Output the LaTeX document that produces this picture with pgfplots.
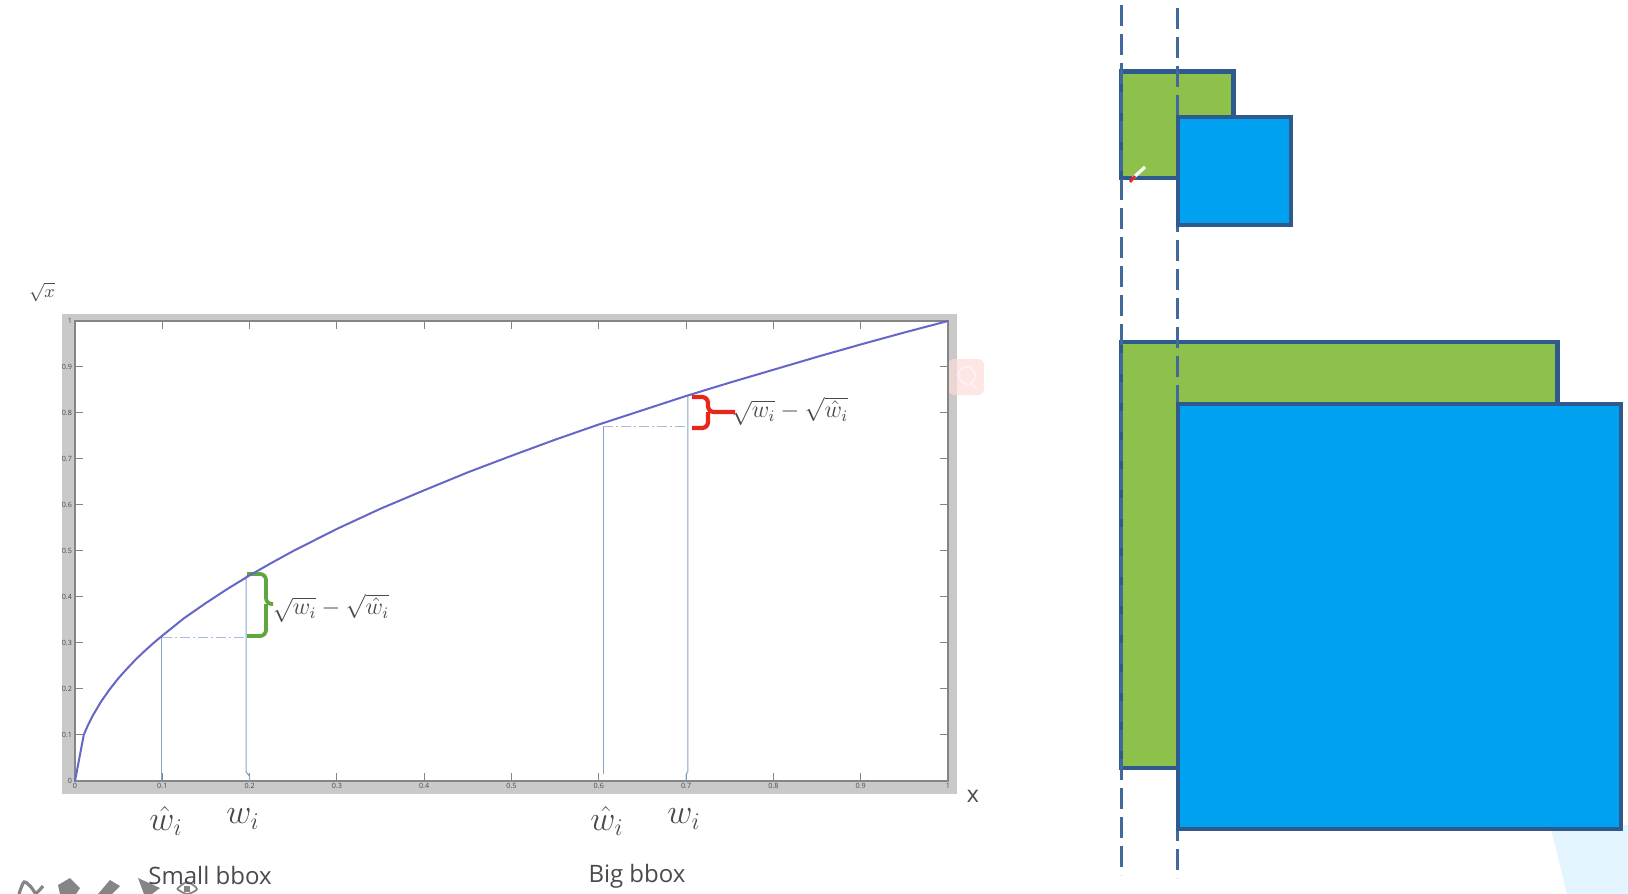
\documentclass[border=0pt]{standalone}
\usepackage{fontspec}
\setmainfont{Open Sans}
\usepackage{pgfplots}
\pgfplotsset{compat=1.18}
\definecolor{frameGray}{HTML}{C9C9C9}
\definecolor{axisGray}{HTML}{858585}
\definecolor{curveBlue}{HTML}{6466C8}
\definecolor{stemBlue}{HTML}{88A3C8}
\definecolor{dotBlue}{HTML}{A5BDD8}
\definecolor{boxEdge}{HTML}{2F5A8E}
\definecolor{dashEdge}{HTML}{41699A}
\definecolor{boxGreen}{HTML}{8DC14B}
\definecolor{boxBlue}{HTML}{00A1F1}
\definecolor{paleBlue}{HTML}{E3F4FE}
\definecolor{paleRed}{HTML}{FCDCD9}
\definecolor{braceGreen}{HTML}{5FA63E}
\definecolor{braceRed}{HTML}{E8271A}
\definecolor{inkGray}{HTML}{4A4A4A}
\definecolor{toolGray}{HTML}{858585}

\begin{document}
\begin{tikzpicture}
\path[use as bounding box] (0,0) rectangle (814pt,447pt);

% page layer, coordinates are pixels of the 1628x894 frame
\begin{axis}[
    at={(0,0)}, anchor=south west,
    scale only axis, width=814pt, height=447pt,
    xmin=0, xmax=1628, ymin=0, ymax=894, y dir=reverse,
    hide axis, clip=false,
]
% matlab figure window
\addplot[draw=none, fill=frameGray] coordinates {(62,314) (957,314) (957,794) (62,794)} --cycle;
\addplot[draw=none, fill=white] coordinates {(75,321) (948,321) (948,781) (75,781)} --cycle;

% search badge
\addplot[draw=none, fill=paleRed, fill opacity=0.7, rounded corners=3pt] coordinates {(948,359) (984,359) (984,395) (948,395)} --cycle;
\addplot[draw=white, draw opacity=0.6, line width=0.7pt, smooth] coordinates {(958,376) (961,369) (968,367) (974,371) (975,378) (970,384) (963,383) (958,376)};
\addplot[draw=white, draw opacity=0.6, line width=0.7pt] coordinates {(971,383) (977,389)};

% bottom right blob
\addplot[draw=none, fill=paleBlue] coordinates {(1550,825) (1628,825) (1628,894) (1567,894)} --cycle;

% green boxes, dashes, blue boxes
\addplot[draw=boxEdge, fill=boxGreen, line width=2.2pt] coordinates {(1121,71.5) (1233.5,71.5) (1233.5,178) (1121,178)} --cycle;
\addplot[draw=boxEdge, fill=boxGreen, line width=2.2pt] coordinates {(1121,342) (1557.5,342) (1557.5,768) (1121,768)} --cycle;
\addplot[draw=dashEdge, line width=1.3pt, dash pattern=on 10.5pt off 4pt] coordinates {(1121.5,5) (1121.5,875)};
\addplot[draw=dashEdge, line width=1.3pt, dash pattern=on 10.5pt off 4pt] coordinates {(1177.5,8) (1177.5,878)};
\addplot[draw=boxEdge, fill=boxBlue, line width=2.2pt] coordinates {(1178,117) (1291,117) (1291,225) (1178,225)} --cycle;
\addplot[draw=boxEdge, fill=boxBlue, line width=2.2pt] coordinates {(1178,404) (1621,404) (1621,829) (1178,829)} --cycle;

% pen cursor
\addplot[draw=white, line width=1.6pt] coordinates {(1133,178) (1145,167)};
\addplot[draw=braceRed, line width=1.4pt] coordinates {(1130,182) (1135,176)};

% braces
\addplot[draw=braceGreen, line width=1.9pt, rounded corners=3pt] coordinates {(247,574) (266,574) (266,604) (273,604)};
\addplot[draw=braceGreen, line width=1.9pt, rounded corners=3pt] coordinates {(247,636) (266,636) (266,604)};
\addplot[draw=braceRed, line width=2.1pt, rounded corners=3pt] coordinates {(692,397) (708,397) (708,412) (735,412)};
\addplot[draw=braceRed, line width=2.1pt, rounded corners=3pt] coordinates {(692,428) (708,428) (708,412)};

% toolbar remains
\addplot[draw=toolGray, line width=1.6pt, smooth] coordinates {(19,894) (24,882) (31,887) (36,893) (43,886)};
\addplot[draw=none, fill=toolGray] coordinates {(58,885) (70,878) (80,888) (76,894) (60,894)} --cycle;
\addplot[draw=none, fill=toolGray] coordinates {(98,894) (110,880) (120,886) (112,894)} --cycle;
\addplot[draw=none, fill=toolGray] coordinates {(138,878) (160,888) (152,894) (144,894)} --cycle;
\addplot[draw=toolGray, line width=0.9pt, smooth] coordinates {(177,889) (187,882) (197,889) (187,894) (177,889)};
\addplot[draw=none, fill=toolGray] coordinates {(184,886) (190,886) (190,892) (184,892)} --cycle;

% labels
\node[inkGray, font=\fontsize{9}{10}\selectfont] at (42,292) {$\sqrt{x}$};
\node[inkGray, font=\fontsize{17}{18}\selectfont] at (166,821) {$\hat{w}_i$};
\node[inkGray, font=\fontsize{17}{18}\selectfont] at (243,819) {$w_i$};
\node[inkGray, font=\fontsize{17}{18}\selectfont] at (607,821) {$\hat{w}_i$};
\node[inkGray, font=\fontsize{17}{18}\selectfont] at (684,819) {$w_i$};
\node[inkGray, font=\fontsize{11.5}{12}\selectfont] at (331,608) {$\sqrt{w_i}-\sqrt{\hat{w}_i}$};
\node[inkGray, font=\fontsize{11.5}{12}\selectfont] at (790,411) {$\sqrt{w_i}-\sqrt{\hat{w}_i}$};
\node[inkGray, font=\fontsize{12}{13}\selectfont] at (210,875) {Small bbox};
\node[inkGray, font=\fontsize{12}{13}\selectfont] at (637,876) {Big bbox};
\node[inkGray, font=\fontsize{11.5}{12}\selectfont] at (973,796) {x};
\end{axis}

% sqrt plot
\begin{axis}[
    at={(37.5pt,56.5pt)}, anchor=south west,
    scale only axis, width=436.5pt, height=230pt,
    xmin=0, xmax=1, ymin=0, ymax=1,
    xtick={0,0.1,...,1}, ytick={0,0.1,...,1},
    xticklabels={0,0.1,0.2,0.3,0.4,0.5,0.6,0.7,0.8,0.9,1},
    yticklabels={0,0.1,0.2,0.3,0.4,0.5,0.6,0.7,0.8,0.9,1},
    tick align=inside, major tick length=4pt,
    tick style={axisGray, line width=0.5pt},
    axis line style={axisGray, line width=0.8pt},
    tick label style={inkGray, font=\fontsize{3.6}{4}\selectfont},
    xticklabel style={yshift=2.2pt},
    yticklabel style={xshift=2pt},
    clip=false,
]
\addplot[stemBlue, line width=0.55pt] coordinates {(0.0995,0) (0.0995,0.316)};
\addplot[stemBlue, line width=0.55pt] coordinates {(0.2,0) (0.2,0.01) (0.196,0.02) (0.196,0.447)};
\addplot[stemBlue, line width=0.55pt] coordinates {(0.605,0.015) (0.605,0.77)};
\addplot[stemBlue, line width=0.55pt] coordinates {(0.7,0) (0.7,0.015) (0.702,0.02) (0.702,0.837)};
\addplot[dotBlue, line width=0.4pt, dash pattern=on 5pt off 1.5pt on 1pt off 1.5pt] coordinates {(0.1,0.312) (0.196,0.312)};
\addplot[dotBlue, line width=0.4pt, dash pattern=on 5pt off 1.5pt on 1pt off 1.5pt] coordinates {(0.605,0.77) (0.702,0.77)};
\addplot[curveBlue, line width=1pt] coordinates {
(0,0) (0.01,0.1) (0.015,0.122) (0.02,0.141) (0.03,0.173) (0.04,0.2) (0.05,0.224) (0.06,0.245)
(0.07,0.265) (0.08,0.283) (0.09,0.3) (0.1,0.316)
(0.125,0.354) (0.15,0.387) (0.175,0.418) (0.2,0.447) (0.225,0.474) (0.25,0.5) (0.3,0.548) (0.35,0.592)
(0.4,0.632) (0.45,0.671) (0.5,0.707) (0.55,0.742) (0.6,0.775) (0.65,0.806) (0.7,0.837)
(0.75,0.866) (0.8,0.894) (0.85,0.922) (0.9,0.949) (0.95,0.975) (1,1)};
\end{axis}
\end{tikzpicture}
\end{document}
